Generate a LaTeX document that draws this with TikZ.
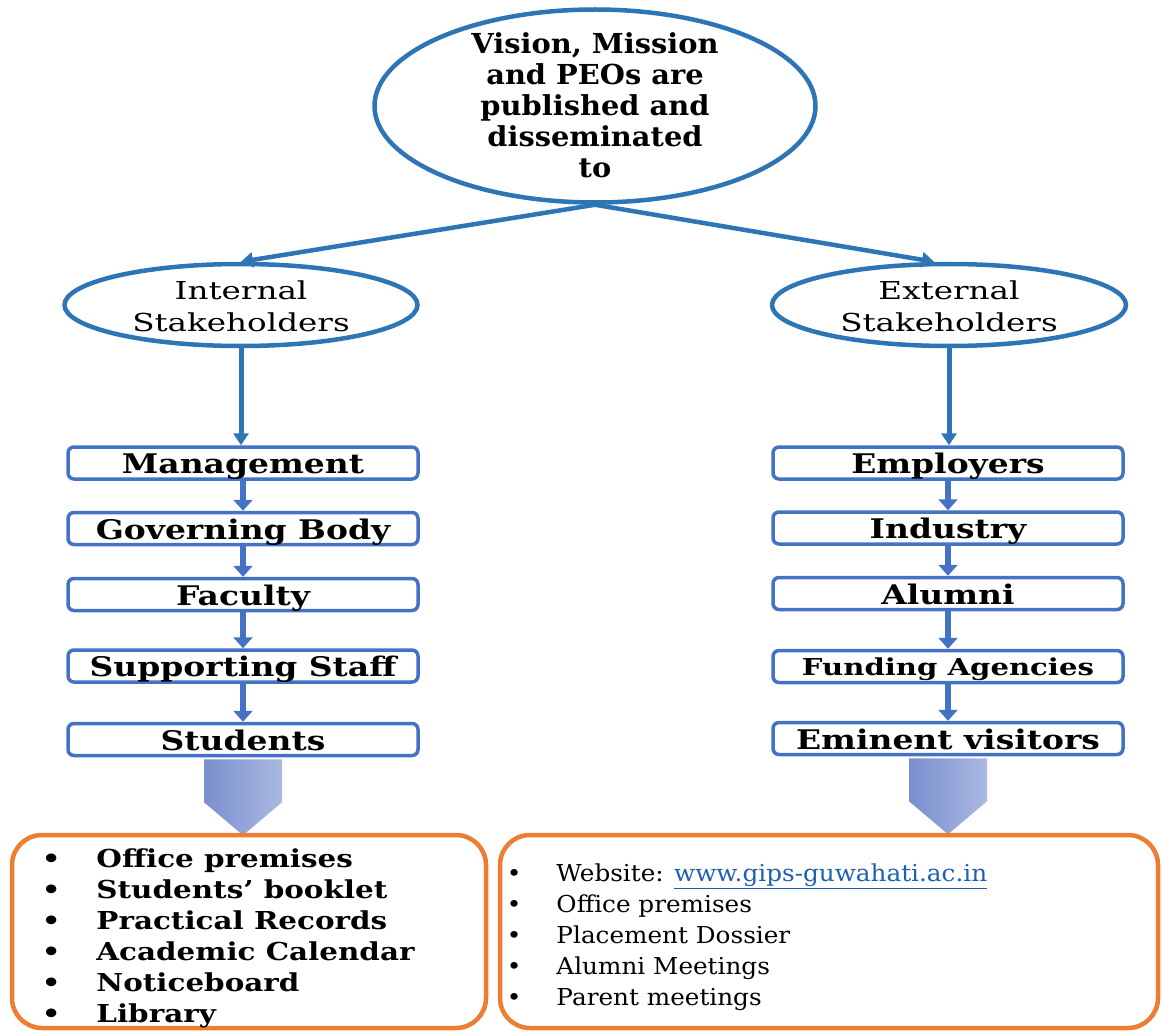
\documentclass[tikz,border=0pt]{standalone}
\usepackage{fontspec}
\usepackage{graphicx}
\setmainfont{DejaVu Serif}
\usetikzlibrary{shapes.geometric,arrows.meta,calc}
\definecolor{ellblue}{RGB}{46,117,182}
\definecolor{boxblue}{RGB}{68,114,196}
\definecolor{boxorange}{RGB}{237,125,49}
\definecolor{linkblue}{RGB}{30,96,176}
\definecolor{shadeL}{RGB}{122,143,206}
\definecolor{shadeR}{RGB}{170,184,226}
% horizontally widened text block
\newcommand{\widen}[2]{\scalebox{#1}[1]{\begin{tabular}{@{}c@{}}#2\end{tabular}}}

\begin{document}
\begin{tikzpicture}[x=1pt,y=-1pt,
  oval/.style={ellipse,draw=ellblue,line width=4.5pt,inner sep=0pt},
  stage/.style={draw=boxblue,line width=3.5pt,rounded corners=6pt,
    minimum width=350pt,minimum height=32pt,inner sep=0pt,
    text height=22pt,text depth=0pt,
    font=\fontsize{27}{30}\selectfont\bfseries},
  listbox/.style={draw=boxorange,line width=4.5pt,rounded corners=30pt,inner sep=0pt},
  flow/.style={draw=boxblue,line width=5.5pt,-{Triangle[width=19pt,length=11pt]}},
  spread/.style={draw=ellblue,line width=4.5pt,-{Triangle[width=15pt,length=12pt]}}]
  \useasboundingbox (0,0) rectangle (1163,1035);
  %
  % Top ellipse
  \node[oval,minimum width=441pt,minimum height=193pt] (vis) at (595,106) {};
  \node[inner sep=0pt,font=\fontsize{27.5}{31}\selectfont\bfseries] (vistxt)
    at ($(vis.center)+(0,3)$)
    {\widen{1.05}{Vision, Mission\\and PEOs are\\published and\\disseminated\\to}};
  %
  % Stakeholder groups
  \node[oval,minimum width=353pt,minimum height=82pt] (int) at (241,305) {};
  \node[oval,minimum width=354pt,minimum height=82pt] (ext) at (949,305) {};
  \node[inner sep=0pt,font=\fontsize{24.7}{32}\selectfont] (inttxt)
    at ($(int.center)+(0,4)$) {\widen{1.32}{Internal\\Stakeholders}};
  \node[inner sep=0pt,font=\fontsize{24.7}{32}\selectfont] (exttxt)
    at ($(ext.center)+(0,4)$) {\widen{1.32}{External\\Stakeholders}};
  \draw[spread] (vis.south) -- (int.north);
  \draw[spread] (vis.south) -- ($(ext.north)+(-15,0)$);
  %
  % Internal chain
  \node[stage] (mgt) at (243,463) {\widen{1.22}{Management}};
  \node[stage] (gov) at (243,528.5) {\widen{1.22}{Governing Body}};
  \node[stage] (fac) at (243,594.5) {\widen{1.22}{Faculty}};
  \node[stage] (sup) at (243,666) {\widen{1.22}{Supporting Staff}};
  \node[stage] (stu) at (243,739.5) {\widen{1.22}{Students}};
  \draw[spread,line width=5pt] (int.south) -- (int.south |- mgt.north);
  \draw[flow] (mgt) -- (gov);
  \draw[flow] (gov) -- (fac);
  \draw[flow] (fac) -- (sup);
  \draw[flow] (sup) -- (stu);
  %
  % External chain
  \node[stage] (emp) at (948,463) {\widen{1.22}{Employers}};
  \node[stage] (ind) at (948,528) {\widen{1.22}{Industry}};
  \node[stage] (alu) at (948,593.5) {\widen{1.22}{Alumni}};
  \node[stage,font=\fontsize{23.3}{26}\selectfont\bfseries,text height=20pt]
    (fun) at (948,666.5) {\widen{1.25}{Funding Agencies}};
  \node[stage] (emi) at (948,738.5) {\widen{1.22}{Eminent visitors}};
  \draw[spread,line width=5pt] (ext.south) -- (ext.south |- emp.north);
  \draw[flow] (emp) -- (ind);
  \draw[flow] (ind) -- (alu);
  \draw[flow] (alu) -- (fun);
  \draw[flow] (fun) -- (emi);
  %
  % Block arrows
  \foreach \src in {stu,emi}
    \shade[left color=shadeL,right color=shadeR]
      ($(\src.south)+(-39,2)$) -- ($(\src.south)+(39,2)$) -- ($(\src.south)+(39,45)$)
      -- ($(\src.south)+(0,78)$) -- ($(\src.south)+(-39,45)$) -- cycle;
  %
  % Dissemination media
  \node[listbox,minimum width=474pt,minimum height=193pt] (lbox) at (249,931.5) {};
  \node[listbox,minimum width=658pt,minimum height=193pt] (rbox) at (829,931.5) {};
  \node[anchor=west,inner sep=0pt,font=\fontsize{24.7}{31}\selectfont\bfseries] (ltxt)
    at ($(lbox.west)+(32,7)$)
    {\scalebox{1.19}[1]{\begin{tabular}{@{}l@{\hspace{30pt}}l@{}}
      • & Office premises\\
      • & Students’ booklet\\
      • & Practical Records\\
      • & Academic Calendar\\
      • & Noticeboard\\
      • & Library
    \end{tabular}}};
  \node[anchor=west,inner sep=0pt,font=\fontsize{23.3}{31}\selectfont] (rtxt)
    at ($(rbox.west)+(9,6)$)
    {\scalebox{1.06}[1]{\begin{tabular}{@{}l@{\hspace{33pt}}l@{}}
      • & Website: \textcolor{linkblue}{\underline{www.gips-guwahati.ac.in}}\\
      • & Office premises\\
      • & Placement Dossier\\
      • & Alumni Meetings\\
      • & Parent meetings
    \end{tabular}}};
\end{tikzpicture}
\end{document}
